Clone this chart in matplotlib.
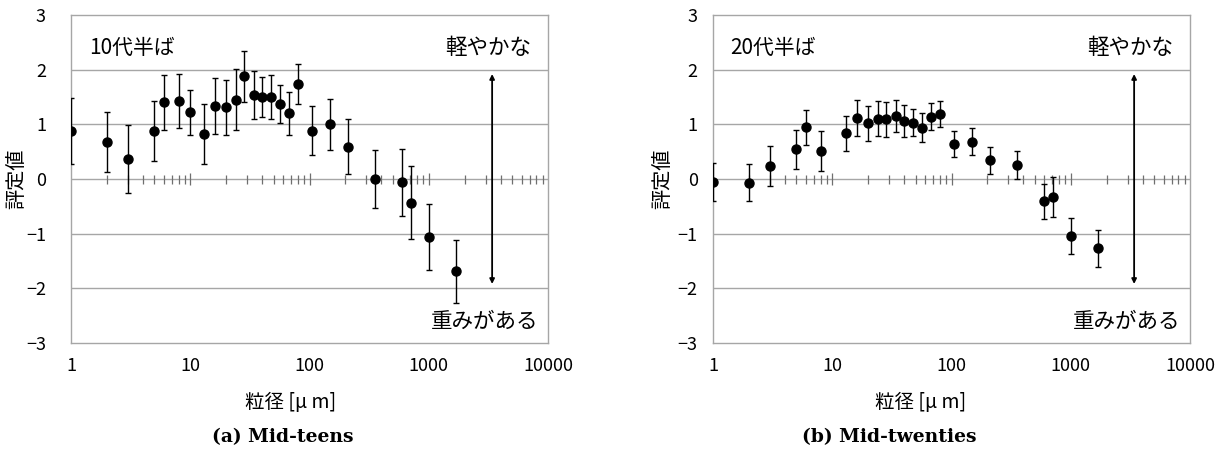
import numpy as np
import matplotlib
matplotlib.use("Agg")
import matplotlib.pyplot as plt
from matplotlib import ticker

plt.rcParams['font.family'] = ['Noto Sans CJK JP', 'DejaVu Sans']

# particle size [um]
sizes_teens = [1, 2, 3, 5, 6, 8, 10, 13, 16, 20, 24, 28, 34, 40, 48, 57, 67, 80,
               105, 150, 212, 355, 600, 710, 1000, 1700]
score_teens = [0.88, 0.67, 0.37, 0.88, 1.40, 1.43, 1.22, 0.82, 1.33, 1.31, 1.45, 1.88,
               1.54, 1.50, 1.50, 1.37, 1.20, 1.74, 0.88, 1.00, 0.59, 0.00, -0.06,
               -0.43, -1.06, -1.69]
err_teens = [0.60, 0.55, 0.62, 0.55, 0.50, 0.49, 0.41, 0.55, 0.51, 0.50, 0.56, 0.47,
             0.44, 0.37, 0.40, 0.35, 0.40, 0.37, 0.45, 0.47, 0.50, 0.53, 0.61,
             0.67, 0.61, 0.58]

sizes_twenties = [1, 2, 3, 5, 6, 8, 13, 16, 20, 24, 28, 34, 40, 48, 57, 67, 80,
                  105, 150, 212, 355, 600, 710, 1000, 1700]
score_twenties = [-0.05, -0.07, 0.24, 0.54, 0.95, 0.51, 0.84, 1.11, 1.02, 1.10, 1.09,
                  1.15, 1.06, 1.03, 0.94, 1.14, 1.19, 0.64, 0.68, 0.34, 0.26, -0.41,
                  -0.33, -1.04, -1.27]
err_twenties = [0.35, 0.34, 0.37, 0.35, 0.32, 0.36, 0.32, 0.33, 0.32, 0.32, 0.32,
                0.29, 0.29, 0.25, 0.26, 0.25, 0.24, 0.24, 0.25, 0.25, 0.26, 0.32,
                0.37, 0.33, 0.34]

arrow_x = 3400
arrow_span = (1.92, -1.92)

panels = [
    ("10代半ば", "(a) Mid-teens", sizes_teens, score_teens, err_teens),
    ("20代半ば", "(b) Mid-twenties", sizes_twenties, score_twenties, err_twenties),
]

fig = plt.figure(figsize=(12.23, 4.57), dpi=100)
lefts = [71 / 1223, 713 / 1223]
ypads = [18, 11]
ylabel_x = [-0.092, -0.084]
xlabel_x = [291 / 1223, 921 / 1223]
caption_x = [283 / 1223, 889 / 1223]
grid_c = "#a6a6a6"

for i, (tag, caption, xs, ys, es) in enumerate(panels):
    ax = fig.add_axes([lefts[i], 1 - 343 / 457, 477 / 1223, 328 / 457])
    ax.set_xscale("log")
    ax.set_xlim(1, 10000)
    ax.set_ylim(-3, 3)
    ax.set_yticks(np.arange(-3, 4, 1))
    ax.yaxis.set_major_formatter(ticker.FuncFormatter(lambda v, p: f"{v:.0f}".replace("-", "−")))
    ax.xaxis.set_major_locator(ticker.FixedLocator([1, 10, 100, 1000, 10000]))
    ax.xaxis.set_major_formatter(ticker.FuncFormatter(lambda v, p: f"{v:.0f}"))
    ax.xaxis.set_minor_locator(ticker.NullLocator())
    ax.tick_params(axis="both", length=0, labelsize=13)
    ax.tick_params(axis="x", pad=10)
    ax.tick_params(axis="y", pad=ypads[i])
    for s in ax.spines.values():
        s.set_color(grid_c)
        s.set_linewidth(1.0)
    for gy in [-2, -1, 0, 1, 2]:
        ax.axhline(gy, color=grid_c, lw=1.0, zorder=1)

    # crossing tick marks on the zero line
    minors = ticker.LogLocator(subs=np.arange(2, 10)).tick_values(1, 10000)
    minors = minors[(minors > 1) & (minors < 10000)]
    ax.vlines(minors, -0.1, 0.07, color="#6f6f6f", lw=0.9, zorder=1)
    majors = [10, 100, 1000]
    ax.vlines(majors, -0.11, 0.11, color="#6f6f6f", lw=0.9, zorder=1)

    ax.errorbar(xs, ys, yerr=es, fmt="o", color="black", ms=6.5, elinewidth=1.0,
                capsize=2, capthick=1.0, zorder=3)

    ax.annotate("", xy=(arrow_x, arrow_span[0]), xytext=(arrow_x, arrow_span[1]),
                arrowprops=dict(arrowstyle="<|-|>", color="black", lw=1.3,
                                mutation_scale=7, shrinkA=0, shrinkB=0))

    ax.text(0.037, 0.9, tag, transform=ax.transAxes, fontsize=15, va="center", ha="left")
    ax.text(0.965, 0.9, "軽やかな", transform=ax.transAxes, fontsize=15.5, va="center", ha="right")
    ax.text(0.98, 0.065, "重みがある", transform=ax.transAxes, fontsize=15.5, va="center", ha="right")
    ax.set_ylabel("評定値", fontsize=14.5)
    ax.yaxis.set_label_coords(ylabel_x[i], 0.5)

    fig.text(xlabel_x[i], 1 - 403 / 457, "粒径 [μ m]", fontsize=14, ha="center", va="center")
    fig.text(caption_x[i], 1 - 437 / 457, caption, fontsize=13.5, ha="center", va="center",
             family="DejaVu Serif", weight="bold")

fig.savefig("out.png", dpi=100)
